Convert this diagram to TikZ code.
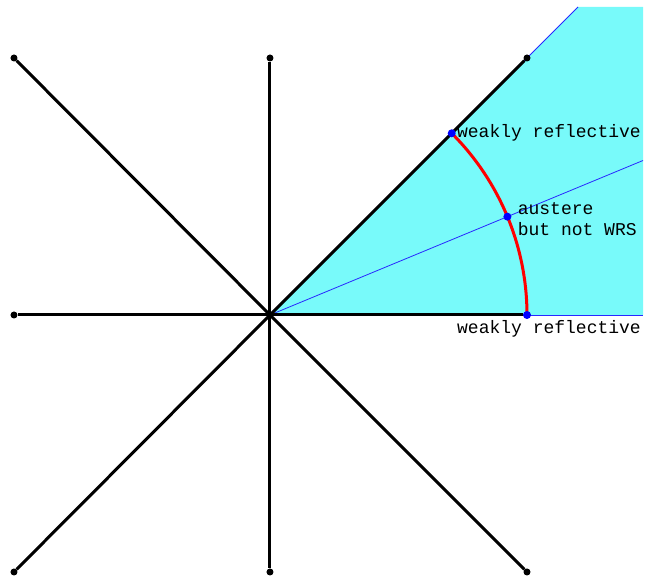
\documentclass[tikz,border=0pt]{standalone}
\usepackage{fontspec}
\newfontfamily\labelfont{Liberation Mono}
\usetikzlibrary{positioning}

\definecolor{conefill}{RGB}{120,250,250}
\definecolor{rayblue}{RGB}{40,40,255}

\begin{document}
\begin{tikzpicture}[
  x=1pt, y=1pt,
  spoke/.style={line width=3pt},
  enddot/.style={circle, fill=black, inner sep=0pt, minimum size=7pt},
  bluedot/.style={circle, fill=blue, inner sep=0pt, minimum size=8pt},
  thinray/.style={rayblue, line width=0.8pt},
  redarc/.style={red, line width=3pt},
  lbl/.style={font=\labelfont\fontsize{18}{21}\selectfont, inner sep=1pt,
    align=left},
]
\useasboundingbox (-270,-263) rectangle (376,315);
\coordinate (O) at (0,0);
% shaded cone between the two weakly reflective rays
\fill[conefill] (O) -- (308,308) -- (373,308) -- (373,0) -- cycle;
\draw[thinray] (O) -- (308,308);
\draw[thinray] (O) -- (373,0);
\draw[thinray] (O) -- (373,154.5);
% the eight spokes
\foreach \n/\x/\y in {e/257/0, ne/257/257, n/0/257, nw/-256/257,
    w/-256/0, sw/-256/-257, s/0/-257, se/257/-257} {
  \node[enddot] (\n) at (\x,\y) {};
  \draw[spoke] (O) -- (\n);
}
\draw[redarc] (0:257) arc[start angle=0, end angle=45, radius=257];
\node[bluedot] (wrlow) at (0:257) {};
\node[bluedot] (wrup) at (45:257) {};
\node[bluedot] (aus) at (22.5:257) {};
% labels
\node[lbl, right=0pt of wrup] (wrupl) {weakly reflective};
\node[lbl, right=5pt of aus, yshift=-2pt] (ausl) {austere\\but not WRS};
\node[lbl, below=0pt of wrlow, xshift=22pt] (wrlowl) {weakly reflective};
\end{tikzpicture}
\end{document}
